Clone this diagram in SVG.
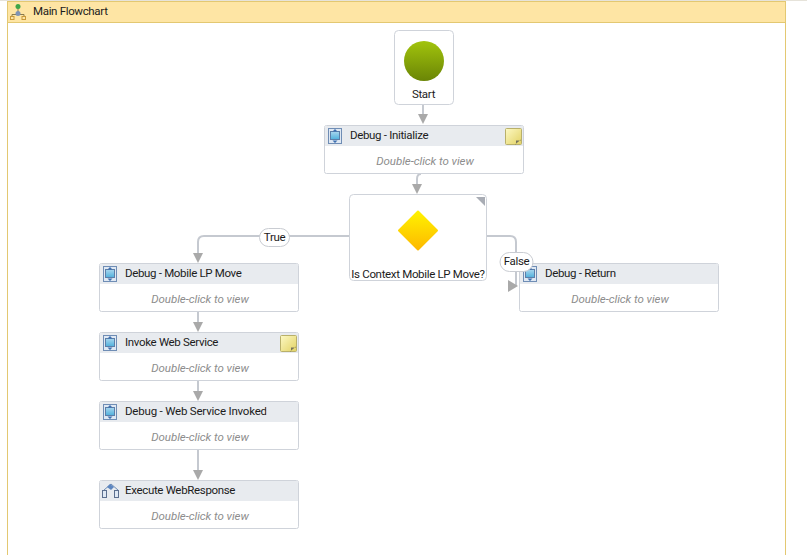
<svg xmlns="http://www.w3.org/2000/svg" width="807" height="555" viewBox="0 0 807 555">
<style>
text{font-family:Roboto,"Liberation Sans",Arial,sans-serif;font-size:11.5px;fill:#1c1c1c;letter-spacing:-.33px}
.box{fill:#fff;stroke:#cfd3da;stroke-width:1}
.hdr{fill:#e8ebef}
text.hint{font-style:italic;fill:#8d8d8d;text-anchor:middle;letter-spacing:-.05px}
.con{fill:none;stroke:#c5c9d0;stroke-width:2}
.arr{fill:#a9a9a9}
.lab{fill:#fff;stroke:#c9ccd2}
.note{fill:url(#noteG);stroke:#b9b06a}
.ic{fill:url(#icG);stroke:#5c7ea8;stroke-width:1}
</style>
<defs>
<linearGradient id="greenG" x1="0" y1="0" x2="0" y2="1"><stop offset="0" stop-color="#a2c40c"/><stop offset="1" stop-color="#6a8506"/></linearGradient>
<linearGradient id="yelG" x1="0" y1="0" x2="0" y2="1"><stop offset="0" stop-color="#fff200"/><stop offset="1" stop-color="#fdb900"/></linearGradient>
<linearGradient id="noteG" x1="0" y1="0" x2="1" y2="1"><stop offset="0" stop-color="#fdf9c4"/><stop offset="1" stop-color="#e2d264"/></linearGradient>
<linearGradient id="icG" x1="0" y1="0" x2="0" y2="1"><stop offset="0" stop-color="#a9d6ee"/><stop offset="1" stop-color="#4fb0dc"/></linearGradient>
<clipPath id="clipName"><rect x="120" y="402" width="146.500" height="20"/></clipPath>
<g id="dbgIcon">
<rect x="0.500" y="0.500" width="13" height="15" fill="#dfe8f3" stroke="#6f8db5"/>
<rect x="2.500" y="3.500" width="9" height="8" class="ic"/>
<path d="M7 1l2.500 2.500h-5zM7 15l2.500-2.500h-5z" fill="#3d6fb0"/>
</g>
<g id="noteIcon">
<rect x="0.500" y="0.500" width="16" height="16" rx="1" class="note"/>
<path d="M11 16.500v-4h5v-1l-6 5z" fill="#77735a"/>
</g>
</defs>

<rect width="807" height="555" fill="#fff"/>
<g id="frame">
<rect x="7.500" y="1.500" width="778" height="570" fill="#fff" stroke="#e3c872"/>
<rect x="8" y="2" width="777" height="20" fill="#fee5a4"/>
<path d="M7.500 22.500H785.500" stroke="#e3c872" fill="none"/>
<path d="M0 .5H807" stroke="#e6e3da" fill="none"/>
<g id="frameIcon">
<path d="M18 7v6M12 17v-2.500h12V17" fill="none" stroke="#8a7a4a"/>
<circle cx="18" cy="6.500" r="2.500" fill="#3fa648"/>
<circle cx="18" cy="13.500" r="2.500" fill="#7f93b5"/>
<rect x="10.500" y="16.500" width="3.500" height="3" fill="#fee5a4" stroke="#c9993a"/>
<rect x="22" y="16.500" width="3.500" height="3" fill="#fee5a4" stroke="#c9993a"/>
</g>
<text x="33" y="15">Main Flowchart</text>
</g>

<g id="connectors">
<path class="con" d="M423 105V115"/>
<path class="arr" d="M418 114H428L423 124Z"/>
<path class="con" d="M421 174Q417 174 417 179V185"/>
<path class="arr" d="M412 184H422L417 194Z"/>
<path class="con" d="M349 236H204Q198 236 198 242V254"/>
<path class="arr" d="M193 253H203L198 263Z"/>
<path class="con" d="M487 236H510Q516 236 516 242V286"/>
<path class="arr" d="M508 280V292L518 286Z"/>
<path class="con" d="M198 312V323"/>
<path class="arr" d="M193 322H203L198 332Z"/>
<path class="con" d="M198 381V392"/>
<path class="arr" d="M193 391H203L198 401Z"/>
<path class="con" d="M198 450V471"/>
<path class="arr" d="M193 470H203L198 480Z"/>
</g>

<g id="start">
<rect class="box" x="394.500" y="30.500" width="59" height="74" rx="4"/>
<circle cx="424" cy="61" r="20" fill="url(#greenG)"/>
<text x="423.500" y="98" text-anchor="middle">Start</text>
</g>

<g id="debug-initialize">
<rect class="box" x="324.500" y="125.500" width="199" height="48" rx="2"/>
<rect class="hdr" x="325" y="126" width="198" height="20"/>
<use href="#dbgIcon" x="328" y="128"/>
<text x="350" y="139">Debug - Initialize</text>
<use href="#noteIcon" x="505" y="128"/>
<text class="hint" x="425" y="165">Double-click to view</text>
</g>

<g id="decision">
<rect class="box" x="349.500" y="194.500" width="137" height="86" rx="4"/>
<path d="M476 197H485V206Z" fill="#a9adb5"/>
<path d="M418 211.500L437 230.500L418 249.500L399 230.500Z" fill="url(#yelG)" stroke="url(#yelG)" stroke-width="2" stroke-linejoin="round"/>
<text x="418" y="278" text-anchor="middle">Is Context Mobile LP Move?</text>
</g>

<g id="debug-mobile">
<rect class="box" x="99.500" y="263.500" width="199" height="48" rx="2"/>
<rect class="hdr" x="100" y="264" width="198" height="20"/>
<use href="#dbgIcon" x="103" y="266"/>
<text x="125" y="277">Debug - Mobile LP Move</text>
<text class="hint" x="200" y="303">Double-click to view</text>
</g>

<g id="invoke">
<rect class="box" x="99.500" y="332.500" width="199" height="48" rx="2"/>
<rect class="hdr" x="100" y="333" width="198" height="20"/>
<use href="#dbgIcon" x="103" y="335"/>
<text x="125" y="346">Invoke Web Service</text>
<use href="#noteIcon" x="280" y="335"/>
<text class="hint" x="200" y="372">Double-click to view</text>
</g>

<g id="debug-invoked">
<rect class="box" x="99.500" y="401.500" width="199" height="48" rx="2"/>
<rect class="hdr" x="100" y="402" width="198" height="20"/>
<use href="#dbgIcon" x="103" y="404"/>
<text x="125" y="415" clip-path="url(#clipName)" style="letter-spacing:-.2px">Debug - Web Service Invoked</text>
<text class="hint" x="200" y="441">Double-click to view</text>
</g>

<g id="execute">
<rect class="box" x="99.500" y="480.500" width="199" height="48" rx="2"/>
<rect class="hdr" x="100" y="481" width="198" height="20"/>
<g id="execIcon">
<path d="M104 490l7-6 7 6" fill="none" stroke="#6f8db5"/>
<path d="M110 484l4 3-3 3-4-3z" fill="#5d86c0"/>
<rect x="102.500" y="490.500" width="4" height="7" fill="#dfe8f3" stroke="#5c6f8e"/>
<rect x="114.500" y="490.500" width="4" height="7" fill="#dfe8f3" stroke="#5c6f8e"/>
</g>
<text x="125" y="494">Execute WebResponse</text>
<text class="hint" x="200" y="520">Double-click to view</text>
</g>

<g id="debug-return">
<rect class="box" x="519.500" y="263.500" width="199" height="48" rx="2"/>
<rect class="hdr" x="520" y="264" width="198" height="20"/>
<use href="#dbgIcon" x="523" y="266"/>
<text x="545" y="277">Debug - Return</text>
<text class="hint" x="620" y="303">Double-click to view</text>
</g>

<g id="label-true">
<rect class="lab" x="259.500" y="228.500" width="30" height="18" rx="9"/>
<text x="274.500" y="241" text-anchor="middle">True</text>
</g>
<g id="label-false">
<rect class="lab" x="500" y="252.500" width="33" height="19" rx="9.500"/>
<text x="516.500" y="265" text-anchor="middle">False</text>
</g>
</svg>
